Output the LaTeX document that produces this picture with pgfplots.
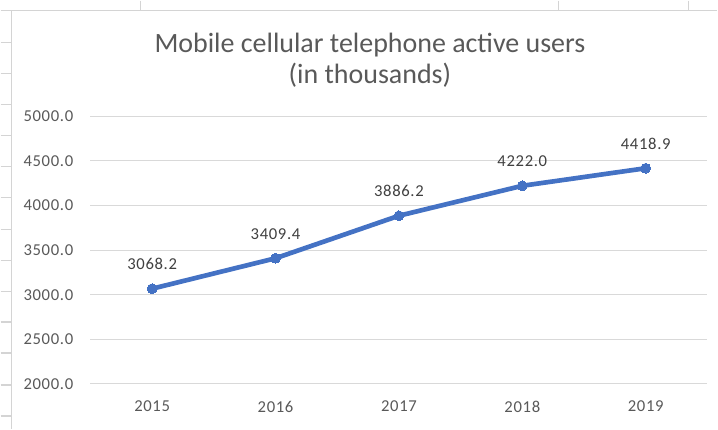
\documentclass[border=0pt]{standalone}
\usepackage{pgfplots}
\pgfplotsset{compat=1.18}
\usepackage{fontspec}
\setmainfont{Carlito}
\definecolor{lineblue}{HTML}{4472C4}
\definecolor{gridgray}{HTML}{D9D9D9}
\definecolor{ticktext}{HTML}{595959}
\definecolor{labeltext}{HTML}{404040}
\definecolor{sheetgray}{HTML}{D4D4D4}
\begin{document}
\begin{tikzpicture}[x=0.75pt,y=-0.75pt]
% canvas 718 x 429 px (y downward)
\path (0,0) rectangle (718,429);
% spreadsheet remnants
\draw[sheetgray,line width=0.9pt] (0,10) -- (718,10);
\draw[sheetgray,line width=0.9pt] (140,0) -- (140,10);
\draw[sheetgray,line width=0.9pt] (559,0) -- (559,10);
\draw[sheetgray,line width=0.9pt] (689,0) -- (689,10);
\draw[sheetgray,line width=0.9pt] (11,10) -- (11,429);
\foreach \yy in {42,73,104,135,166,197,229,260,291,322,353,385,416}
  \draw[sheetgray,line width=0.9pt] (0,\yy) -- (11,\yy);
% title
\node[align=center,text=ticktext,font=\fontsize{21}{23}\selectfont,inner sep=0pt]
  at (370,60) {Mobile cellular telephone active users\\(in thousands)};
\begin{axis}[
  at={(67.5pt,-288pt)}, anchor=south west,
  scale only axis,
  width=463.5pt, height=201pt,
  xmin=-0.5, xmax=4.5,
  ymin=2000, ymax=5000,
  xtick={0,1,2,3,4},
  xticklabels={2015,2016,2017,2018,2019},
  ytick={2000,2500,3000,3500,4000,4500,5000},
  yticklabel={\pgfmathprintnumber[fixed,fixed zerofill,precision=1,1000 sep={}]{\tick}},
  /pgf/number format/assume math mode=true,
  axis line style={draw=none},
  major tick length=0pt,
  ymajorgrids,
  grid style={gridgray,line width=0.75pt},
  tick label style={text=ticktext,font=\fontsize{12.5}{14}\selectfont\addfontfeature{LetterSpace=4}},
  yticklabel style={anchor=east,inner sep=0pt,xshift=-12.75pt},
  xticklabel style={anchor=north,inner sep=0pt,yshift=-12.75pt},
  clip=false,
]
\addplot[lineblue,line width=3.5pt,mark=*,mark size=3.7pt,mark options={fill=lineblue,draw=lineblue,line width=0pt}]
  coordinates {(0,3068.2) (1,3409.4) (2,3886.2) (3,4222.0) (4,4418.9)};
\tikzset{dl/.style={anchor=south,inner sep=0pt,yshift=14pt,text=labeltext,font=\fontsize{12.5}{14}\selectfont\addfontfeature{LetterSpace=4}}}
\node[dl] at (axis cs:0,3068.2) {3068.2};
\node[dl] at (axis cs:1,3409.4) {3409.4};
\node[dl] at (axis cs:2,3886.2) {3886.2};
\node[dl] at (axis cs:3,4222.0) {4222.0};
\node[dl] at (axis cs:4,4418.9) {4418.9};
\end{axis}
\end{tikzpicture}
\end{document}
